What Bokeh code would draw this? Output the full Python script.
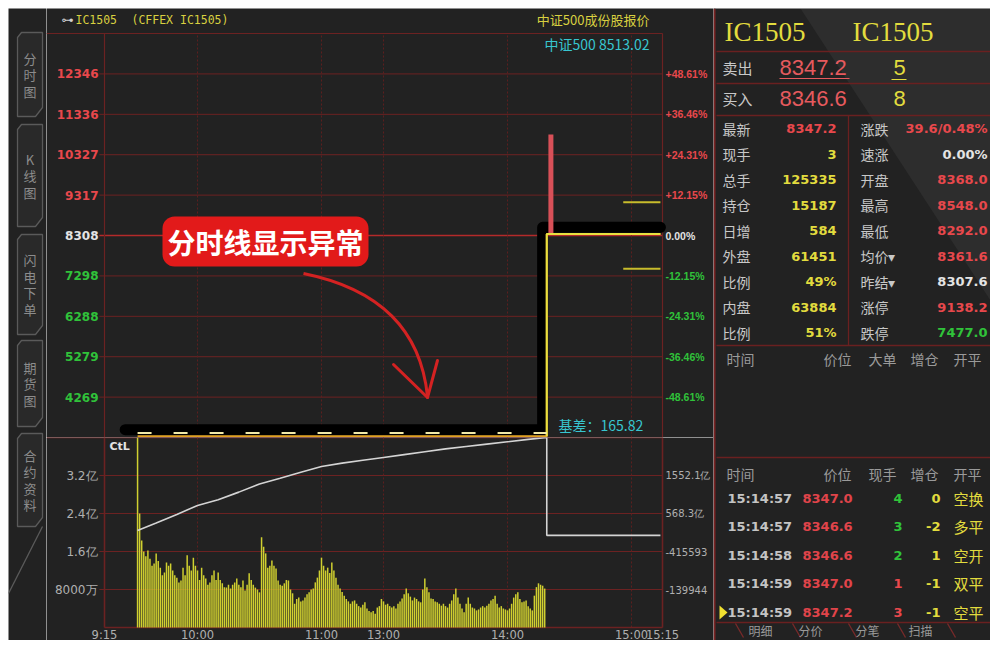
from bokeh.plotting import figure
from bokeh.layouts import row, column
from bokeh.models import Range1d
from bokeh.core.properties import value
from bokeh.embed import file_html
from bokeh.resources import INLINE

# ---------------- data ----------------
time_ticks = [0, 45, 105, 135, 195, 255, 270]          # minutes of trading since 9:15
time_labels = ["9:15", "10:00", "11:00", "13:00", "14:00", "15:00", "15:15"]

price_ticks = [12346, 11336, 10327, 9317, 8308, 7298, 6288, 5279, 4269]
pct_labels = ["+48.61%", "+36.46%", "+24.31%", "+12.15%", "0.00%",
              "-12.15%", "-24.31%", "-36.46%", "-48.61%"]
price_center = 8308
price_lo, price_hi = 3260, 13356

price_t = [16, 214, 214, 269]
price_v = [3290, 3290, 8347.2, 8347.2]
avg_t = [16, 214]
avg_v = [3370, 3370]
spike_t = [216]
spike_lo = [8347.2]
spike_hi = [10830]
limit_t = [251, 269]
limit_up = 9138.2
limit_down = 7477.0

vol_start = 16
vol_vals = [4.2, 2.4, 1.83, 1.6, 1.5, 1.62, 1.45, 1.3, 1.35, 1.56,
            1.4, 1.26, 1.1, 1.16, 1.37, 1.3, 1.35, 1.2, 1.1, 1.05,
            0.95, 0.99, 1.26, 1.1, 1.52, 1.3, 1.2, 1.47, 1.3, 1.2,
            1.0, 1.26, 1.1, 1.03, 0.9, 0.95, 1.1, 1.2, 1.0, 1.16,
            1.0, 0.93, 0.85, 0.84, 0.9, 0.82, 0.9, 0.95, 1.03, 0.9,
            0.85, 0.99, 0.78, 0.9, 1.14, 1.0, 0.9, 0.84, 0.8, 0.74,
            1.9, 1.7, 1.56, 1.26, 1.3, 1.41, 1.3, 1.24, 0.99, 0.9,
            0.88, 0.93, 1.0, 0.99, 0.8, 0.72, 0.5, 0.6, 0.63, 0.55,
            0.57, 0.63, 0.7, 0.74, 0.8, 0.82, 0.95, 1.05, 1.2, 1.47,
            1.3, 1.2, 1.26, 1.15, 1.37, 1.2, 1.05, 0.9, 0.82, 0.75,
            0.67, 0.6, 0.55, 0.5, 0.55, 0.57, 0.5, 0.45, 0.42, 0.48,
            0.53, 0.4, 0.35, 0.32, 0.35, 0.29, 0.42, 0.45, 0.6, 0.55,
            0.48, 0.5, 0.45, 0.42, 0.45, 0.4, 0.5, 0.55, 0.61, 0.7,
            0.82, 0.72, 0.65, 0.57, 0.63, 0.6, 0.55, 0.53, 0.8, 1.03,
            0.85, 0.74, 0.61, 0.6, 0.55, 0.53, 0.5, 0.46, 0.5, 0.45,
            0.42, 0.5, 0.57, 0.7, 0.82, 0.63, 0.5, 0.4, 0.32, 0.5,
            0.63, 0.5, 0.42, 0.4, 0.36, 0.38, 0.42, 0.45, 0.42, 0.46,
            0.5, 0.57, 0.6, 0.67, 0.5, 0.42, 0.45, 0.4, 0.38, 0.36,
            0.4, 0.5, 0.63, 0.7, 0.74, 0.6, 0.53, 0.55, 0.57, 0.45,
            0.4, 0.36, 0.67, 0.85, 0.93, 0.9, 0.88, 0.82]   # 亿
vol_max = 4.0
vol_ticks = [0.8, 1.6, 2.4, 3.2]
vol_tick_labels = ["8000万", "1.6亿", "2.4亿", "3.2亿"]
oi_tick_labels = ["-139944", "-415593", "568.3亿", "1552.1亿"]
oi_t = [16, 25, 35, 45, 55, 65, 75, 85, 95, 105, 115, 125, 135, 145, 155,
        165, 175, 185, 195, 205, 214, 214, 269]
oi_v = [2.04, 2.2, 2.38, 2.57, 2.69, 2.85, 3.02, 3.14, 3.27, 3.39, 3.46, 3.52,
        3.58, 3.64, 3.7, 3.76, 3.81, 3.86, 3.91, 3.96, 4.0, 1.94, 1.94]

header_code = "IC1505"
header_exch = "(CFFEX IC1505)"
header_right = "中证500成份股报价"
index_label = "中证500 8513.02"
basis_label = "基差：165.82"
note_text = "分时线显示异常"

tab_names = ["分时图", "K线图", "闪电下单", "期货图", "合约资料"]

ask_price, ask_vol = "8347.2", "5"
bid_price, bid_vol = "8346.6", "8"
quote_left_labels = ["最新", "现手", "总手", "持仓", "日增", "外盘", "比例", "内盘", "比例"]
quote_left_values = ["8347.2", "3", "125335", "15187", "584", "61451", "49%", "63884", "51%"]
quote_right_labels = ["涨跌", "速涨", "开盘", "最高", "最低", "均价▾", "昨结▾", "涨停", "跌停"]
quote_right_values = ["39.6/0.48%", "0.00%", "8368.0", "8548.0", "8292.0",
                      "8361.6", "8307.6", "9138.2", "7477.0"]
big_order_header = ["时间", "价位", "大单", "增仓", "开平"]
tick_header = ["时间", "价位", "现手", "增仓", "开平"]
trade_times = ["15:14:57", "15:14:57", "15:14:58", "15:14:59", "15:14:59"]
trade_prices = ["8347.0", "8346.6", "8346.6", "8347.0", "8347.2"]
trade_qty = ["4", "3", "2", "1", "3"]
trade_oi = ["0", "-2", "1", "-1", "-1"]
trade_kind = ["空换", "多平", "空开", "双平", "空平"]
bottom_tabs = ["明细", "分价", "分笔", "扫描"]

# ---------------- style ----------------
BG = "#222222"
GRID = "#6c2222"
GRIDV = "#5c1e1e"
ZERO = "#b42a2a"
RED = "#e8484c"
GREEN = "#30c23a"
WHITE = "#e4e4e4"
YEL = "#e2dc3e"
CYAN = "#38c6d0"
GREYT = "#b0b0b0"
LBL = "#c8c8c8"
CJK = "Noto Sans CJK SC"

W_TABS, W_MAIN, W_PANEL = 38, 667, 277
H_PRICE, H_VOL = 429, 203
H_ALL = H_PRICE + H_VOL
BL, BR, BT = 58, 51, 25
VB = 13                                     # px under the volume chart for time labels
PXM = (W_MAIN - BL - BR) / 270.0            # px per minute
PPU = (price_hi - price_lo) / (H_PRICE - BT)  # price per px
VPU = vol_max / (H_VOL - VB)                # volume per px
X0 = -BL / PXM
X1 = 270 + BR / PXM
Y_TOP = price_hi + BT * PPU
V_BOT = -VB * VPU


def mx(px):   # page x -> minutes
    return (px - 104) / PXM


def py(py_):  # page y -> price
    return price_hi - (py_ - 33) * PPU


def vy(py_):  # page y -> volume
    return (627 - py_) * VPU


def base_fig(w, h, xr, yr):
    f = figure(width=w, height=h, x_range=xr, y_range=yr, output_backend="svg",
               toolbar_location=None, background_fill_color=BG, border_fill_color=BG,
               outline_line_color=None, title=None, x_axis_location=None,
               y_axis_location=None, min_border=0)
    f.xgrid.visible = False
    f.ygrid.visible = False
    return f


def txt(f, xs, ys, texts, color, size, font=CJK, align="left", style="normal"):
    f.text(x=xs, y=ys, text=texts, text_color=color, text_font=value(font),
           text_font_size=size, text_align=align, text_baseline="middle",
           text_font_style=style)


inner = time_ticks[1:-1]

# ---------------- price chart ----------------
p = base_fig(W_MAIN, H_PRICE, Range1d(X0, X1), Range1d(price_lo, Y_TOP))

grid_cols = [ZERO if t == price_center else GRID for t in price_ticks]
grid_w = [1.6 if t == price_center else 1 for t in price_ticks]
p.segment(x0=-2.5, x1=270, y0=price_ticks, y1=price_ticks, line_color=grid_cols, line_width=grid_w)
p.segment(x0=inner, x1=inner, y0=price_lo, y1=price_hi, line_color=GRIDV, line_dash="2 2")
p.segment(x0=[X0, 0, 270], x1=[270, 0, 270], y0=[price_hi, price_lo, price_lo],
          y1=[price_hi, price_hi, price_hi], line_color=GRID, line_width=1.2)

p.segment(x0=limit_t[0], x1=limit_t[1], y0=[limit_up, limit_down], y1=[limit_up, limit_down],
          line_color="#c8bc2c", line_width=2)

# black highlight stroke drawn over the price line
band_t = [price_t[0] - 6, price_t[1] - 2, price_t[2] - 2, price_t[3]]
band_v = [val + 165 for val in price_v]
p.line(band_t, band_v, line_color="#000000", line_width=11, line_cap="round", line_join="round")

p.segment(x0=spike_t, x1=spike_t, y0=spike_lo, y1=spike_hi, line_color="#d85058", line_width=5)
p.line(price_t, price_v, line_color="#e0a020", line_width=2)
p.line(price_t[1:], price_v[1:], line_color="#e8e040", line_width=2)
p.line(avg_t, avg_v, line_color="#f2eaa8", line_width=2, line_dash="14 22")

lab_cols = [RED if t > price_center else (WHITE if t == price_center else GREEN) for t in price_ticks]
txt(p, [mx(98)] * len(price_ticks), price_ticks, [str(t) for t in price_ticks], lab_cols,
    "12px", font="DejaVu Sans", align="right", style="bold")
txt(p, [mx(665)] * len(price_ticks), price_ticks, pct_labels, lab_cols,
    "10.5px", font="Liberation Sans", style="bold")

txt(p, [mx(61)], [py(19)], ["⊶"], "#d0d0d0", "12px", font="DejaVu Sans")
txt(p, [mx(75)], [py(19)], [header_code], "#d8d040", "11.5px", font="DejaVu Sans Mono")
txt(p, [mx(131)], [py(19)], [header_exch], "#d8d040", "11.5px", font="DejaVu Sans Mono")
txt(p, [mx(649)], [py(19)], [header_right], "#d8d040", "13px", align="right")
txt(p, [mx(649)], [py(43)], [index_label], CYAN, "14px", align="right")
txt(p, [mx(558)], [py(424)], [basis_label], CYAN, "14px")

# annotation
p.quadratic(x0=mx(303), y0=py(273), x1=mx(427), y1=py(396), cx=mx(417), cy=py(296),
            line_color="#d42222", line_width=3)
p.segment(x0=[mx(393), mx(437)], y0=[py(364), py(360)], x1=mx(427), y1=py(397),
          line_color="#d42222", line_width=3, line_cap="round")
p.text(x=[mx(265)], y=[py(241)], text=[note_text], text_color="#ffffff",
       text_font=value(CJK), text_font_size="28px", text_font_style="bold",
       text_align="center", text_baseline="middle",
       background_fill_color="#e21a1a", border_radius=12, padding=5)

# ---------------- volume chart ----------------
v = base_fig(W_MAIN, H_VOL, Range1d(X0, X1), Range1d(V_BOT, vol_max))
v.segment(x0=-2.5, x1=270, y0=vol_ticks, y1=vol_ticks, line_color=GRID, line_width=1)
v.segment(x0=inner, x1=inner, y0=0, y1=vol_max, line_color=GRIDV, line_dash="2 2")
v.segment(x0=[0, 270, X0, 0], x1=[0, 270, 270, 270], y0=[0, 0, vol_max, 0],
          y1=[vol_max, vol_max, vol_max, 0], line_color=GRID, line_width=1.6)

vol_t = list(range(vol_start, vol_start + len(vol_vals)))
v.vbar(x=vol_t, top=vol_vals, width=0.72, fill_color="#d0d030", line_color=None)
v.line(oi_t, oi_v, line_color="#d4d4d4", line_width=1.6)

txt(v, [mx(97)] * 4, vol_ticks, vol_tick_labels, GREYT, "12px", font="DejaVu Sans", align="right")
txt(v, [mx(665)] * 4, vol_ticks, oi_tick_labels, GREYT, "10px", font="DejaVu Sans")
txt(v, time_ticks, [vy(634)] * len(time_ticks), time_labels, GREYT, "11.5px",
    font="DejaVu Sans", align="center")
txt(v, [mx(109)], [vy(446)], ["CtL"], WHITE, "11px", font="DejaVu Sans", style="bold")

# ---------------- left tabs ----------------
T = base_fig(W_TABS, H_ALL, Range1d(0, W_TABS), Range1d(H_ALL, 0))
tab_spans = [(24, 108), (116, 218), (226, 326), (332, 418), (425, 518)]
xs_l, ys_l = [], []
for (a, b) in tab_spans:
    xs_l.append([9, 13, 34, 34, 27, 9])
    ys_l.append([a + 5, a, a, b - 9, b, b])
T.patches(xs_l, ys_l, fill_color="#292929", line_color="#5a5a5a", line_width=1.3)
T.segment(x0=[34], y0=[518], x1=[0], y1=[585], line_color="#5a5a5a", line_width=1.3)
for name, (a, b) in zip(tab_names, tab_spans):
    n = len(name)
    c = (a + b) / 2.0
    ys = [c + (i - (n - 1) / 2.0) * 16.5 for i in range(n)]
    txt(T, [21.5] * n, ys, list(name), "#8c8c8c", "13px", align="center")

# ---------------- right quote panel ----------------
P = base_fig(W_PANEL, H_ALL, Range1d(0, W_PANEL), Range1d(H_ALL, 0))
P.patch([87, W_PANEL, W_PANEL], [0, 0, 292], fill_color="#ffffff", fill_alpha=0.05, line_color=None)
LINE = "#6a2020"
P.segment(x0=[1], y0=[0], x1=[1], y1=[H_ALL], line_color="#7a2424", line_width=2)
hl = [43, 75, 107, 337, 449, 614]
P.segment(x0=3, x1=W_PANEL, y0=hl, y1=hl, line_color=LINE, line_width=1.3)
P.segment(x0=[135], y0=[107], x1=[135], y1=[337], line_color=LINE, line_width=1.3)

txt(P, [11, 139], [23, 23], [header_code, header_code], YEL, "27px", font="Liberation Serif")
txt(P, [9, 9], [59, 90], ["卖出", "买入"], LBL, "15px")
txt(P, [66, 66], [59, 90], [ask_price, bid_price], "#e65a5e", "22px", font="Liberation Sans")
txt(P, [180, 180], [59, 90], [ask_vol, bid_vol], YEL, "22px", font="Liberation Sans")
P.segment(x0=[66, 178], x1=[136, 193], y0=[70, 71], y1=[70, 71],
          line_color=["#e65a5e", YEL], line_width=1.2)

row_y = [120 + i * 25.5 for i in range(len(quote_left_labels))]
lv_cols = [RED] + [YEL] * (len(quote_left_values) - 1)
rv_cols = [RED, WHITE, RED, RED, RED, RED, WHITE, RED, GREEN]
txt(P, [9] * 9, row_y, quote_left_labels, LBL, "14px")
txt(P, [123] * 9, row_y, quote_left_values, lv_cols, "13px", font="DejaVu Sans",
    align="right", style="bold")
txt(P, [147] * 9, row_y, quote_right_labels, LBL, "14px")
txt(P, [274] * 9, row_y, quote_right_values, rv_cols, "13px", font="DejaVu Sans",
    align="right", style="bold")

col_x = [27, 124, 169, 211, 254]
txt(P, col_x, [350] * 5, big_order_header, "#9a9a9a", "14px", align="center")
txt(P, col_x, [465] * 5, tick_header, "#9a9a9a", "14px", align="center")

tr_y = [490 + i * 28.4 for i in range(len(trade_times))]
qty_cols = [GREEN, GREEN, GREEN, RED, RED]
txt(P, [14] * 5, tr_y, trade_times, "#c4c4c4", "13px", font="DejaVu Sans", style="bold")
txt(P, [89] * 5, tr_y, trade_prices, "#e0444a", "13px", font="DejaVu Sans", style="bold")
txt(P, [189] * 5, tr_y, trade_qty, qty_cols, "13px", font="DejaVu Sans", align="right", style="bold")
txt(P, [227] * 5, tr_y, trade_oi, YEL, "13px", font="DejaVu Sans", align="right", style="bold")
txt(P, [240] * 5, tr_y, trade_kind, YEL, "15px")
P.patch([6, 6, 14], [597, 611, 604], fill_color="#f0e030", line_color=None)

sep_x = [22, 79, 135, 184, 234]
P.segment(x0=sep_x, y0=[615] * 5, x1=[x + 8 for x in sep_x], y1=[629] * 5,
          line_color="#7a2a2a", line_width=1.3)
txt(P, [47, 97, 154, 207], [622] * 4, bottom_tabs, "#9a9a9a", "12px", align="center")

layout = row(T, column(p, v), P)
layout.margin = (8, 0, 0, 8)
open("out.html", "w").write(file_html(layout, INLINE))
